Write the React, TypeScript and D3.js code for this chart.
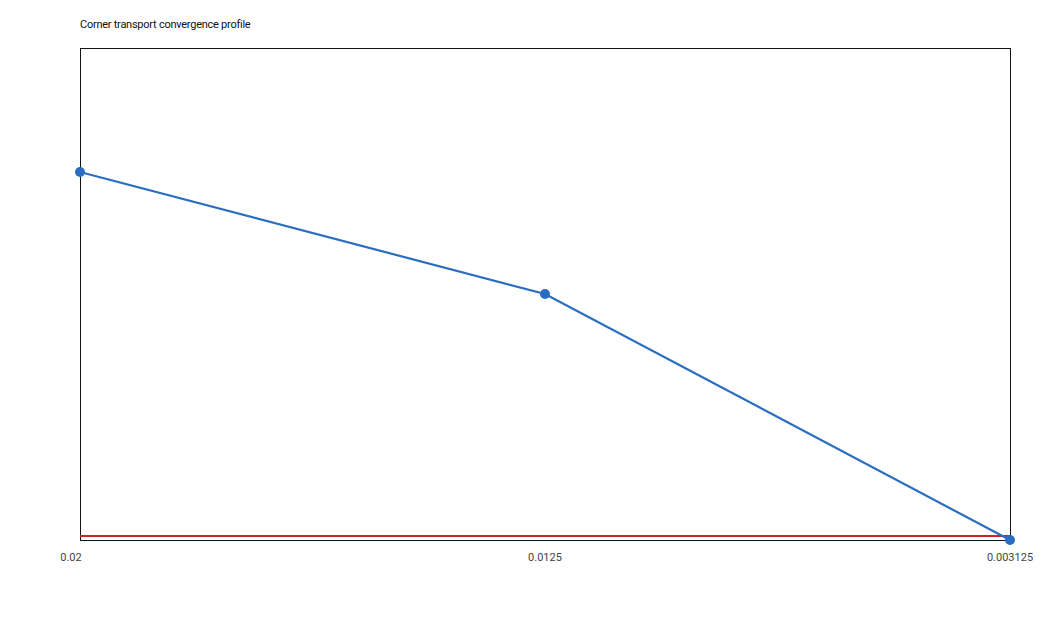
import * as d3 from "d3";

const steps = ["0.02", "0.0125", "0.003125"];
const errors = [0.748, 0.5, 0.0];
const referenceLevel = 0.008;
const title = "Corner transport convergence profile";

const width = 1050;
const height = 620;
const margin = { top: 48, right: 40, bottom: 80, left: 80 };

export default function App() {
  const x = d3
    .scalePoint()
    .domain(steps)
    .range([margin.left, width - margin.right]);

  const y = d3
    .scaleLinear()
    .domain([0, 1])
    .range([height - margin.bottom, margin.top]);

  const line = d3
    .line<number>()
    .x((_, i) => x(steps[i]) ?? 0)
    .y((d) => y(d));

  const font = "Roboto, 'Liberation Sans', sans-serif";

  return (
    <svg
      width={width}
      height={height}
      style={{ position: "absolute", left: 0, top: 0, background: "#fff" }}
    >
      <text
        x={margin.left}
        y={28}
        fontSize={11}
        fontFamily={font}
        fill="#111"
        letterSpacing={-0.25}
      >
        {title}
      </text>
      <rect
        x={margin.left}
        y={margin.top}
        width={width - margin.left - margin.right}
        height={height - margin.top - margin.bottom}
        fill="none"
        stroke="#111"
        strokeWidth={1}
        shapeRendering="crispEdges"
      />
      <line
        x1={margin.left}
        x2={width - margin.right}
        y1={y(referenceLevel)}
        y2={y(referenceLevel)}
        stroke="#c62828"
        strokeWidth={2}
        shapeRendering="crispEdges"
      />
      <path d={line(errors) ?? ""} fill="none" stroke="#2a6dc2" strokeWidth={2.2} />
      {errors.map((d, i) => (
        <circle key={i} cx={x(steps[i])} cy={y(d)} r={5} fill="#2a6dc2" />
      ))}
      {steps.map((s, i) => (
        <text
          key={s}
          x={(x(s) ?? 0) + (i === 0 ? -9 : 0)}
          y={height - margin.bottom + 21}
          textAnchor="middle"
          fontSize={11}
          fontFamily={font}
          fill="#444"
        >
          {s}
        </text>
      ))}
    </svg>
  );
}
